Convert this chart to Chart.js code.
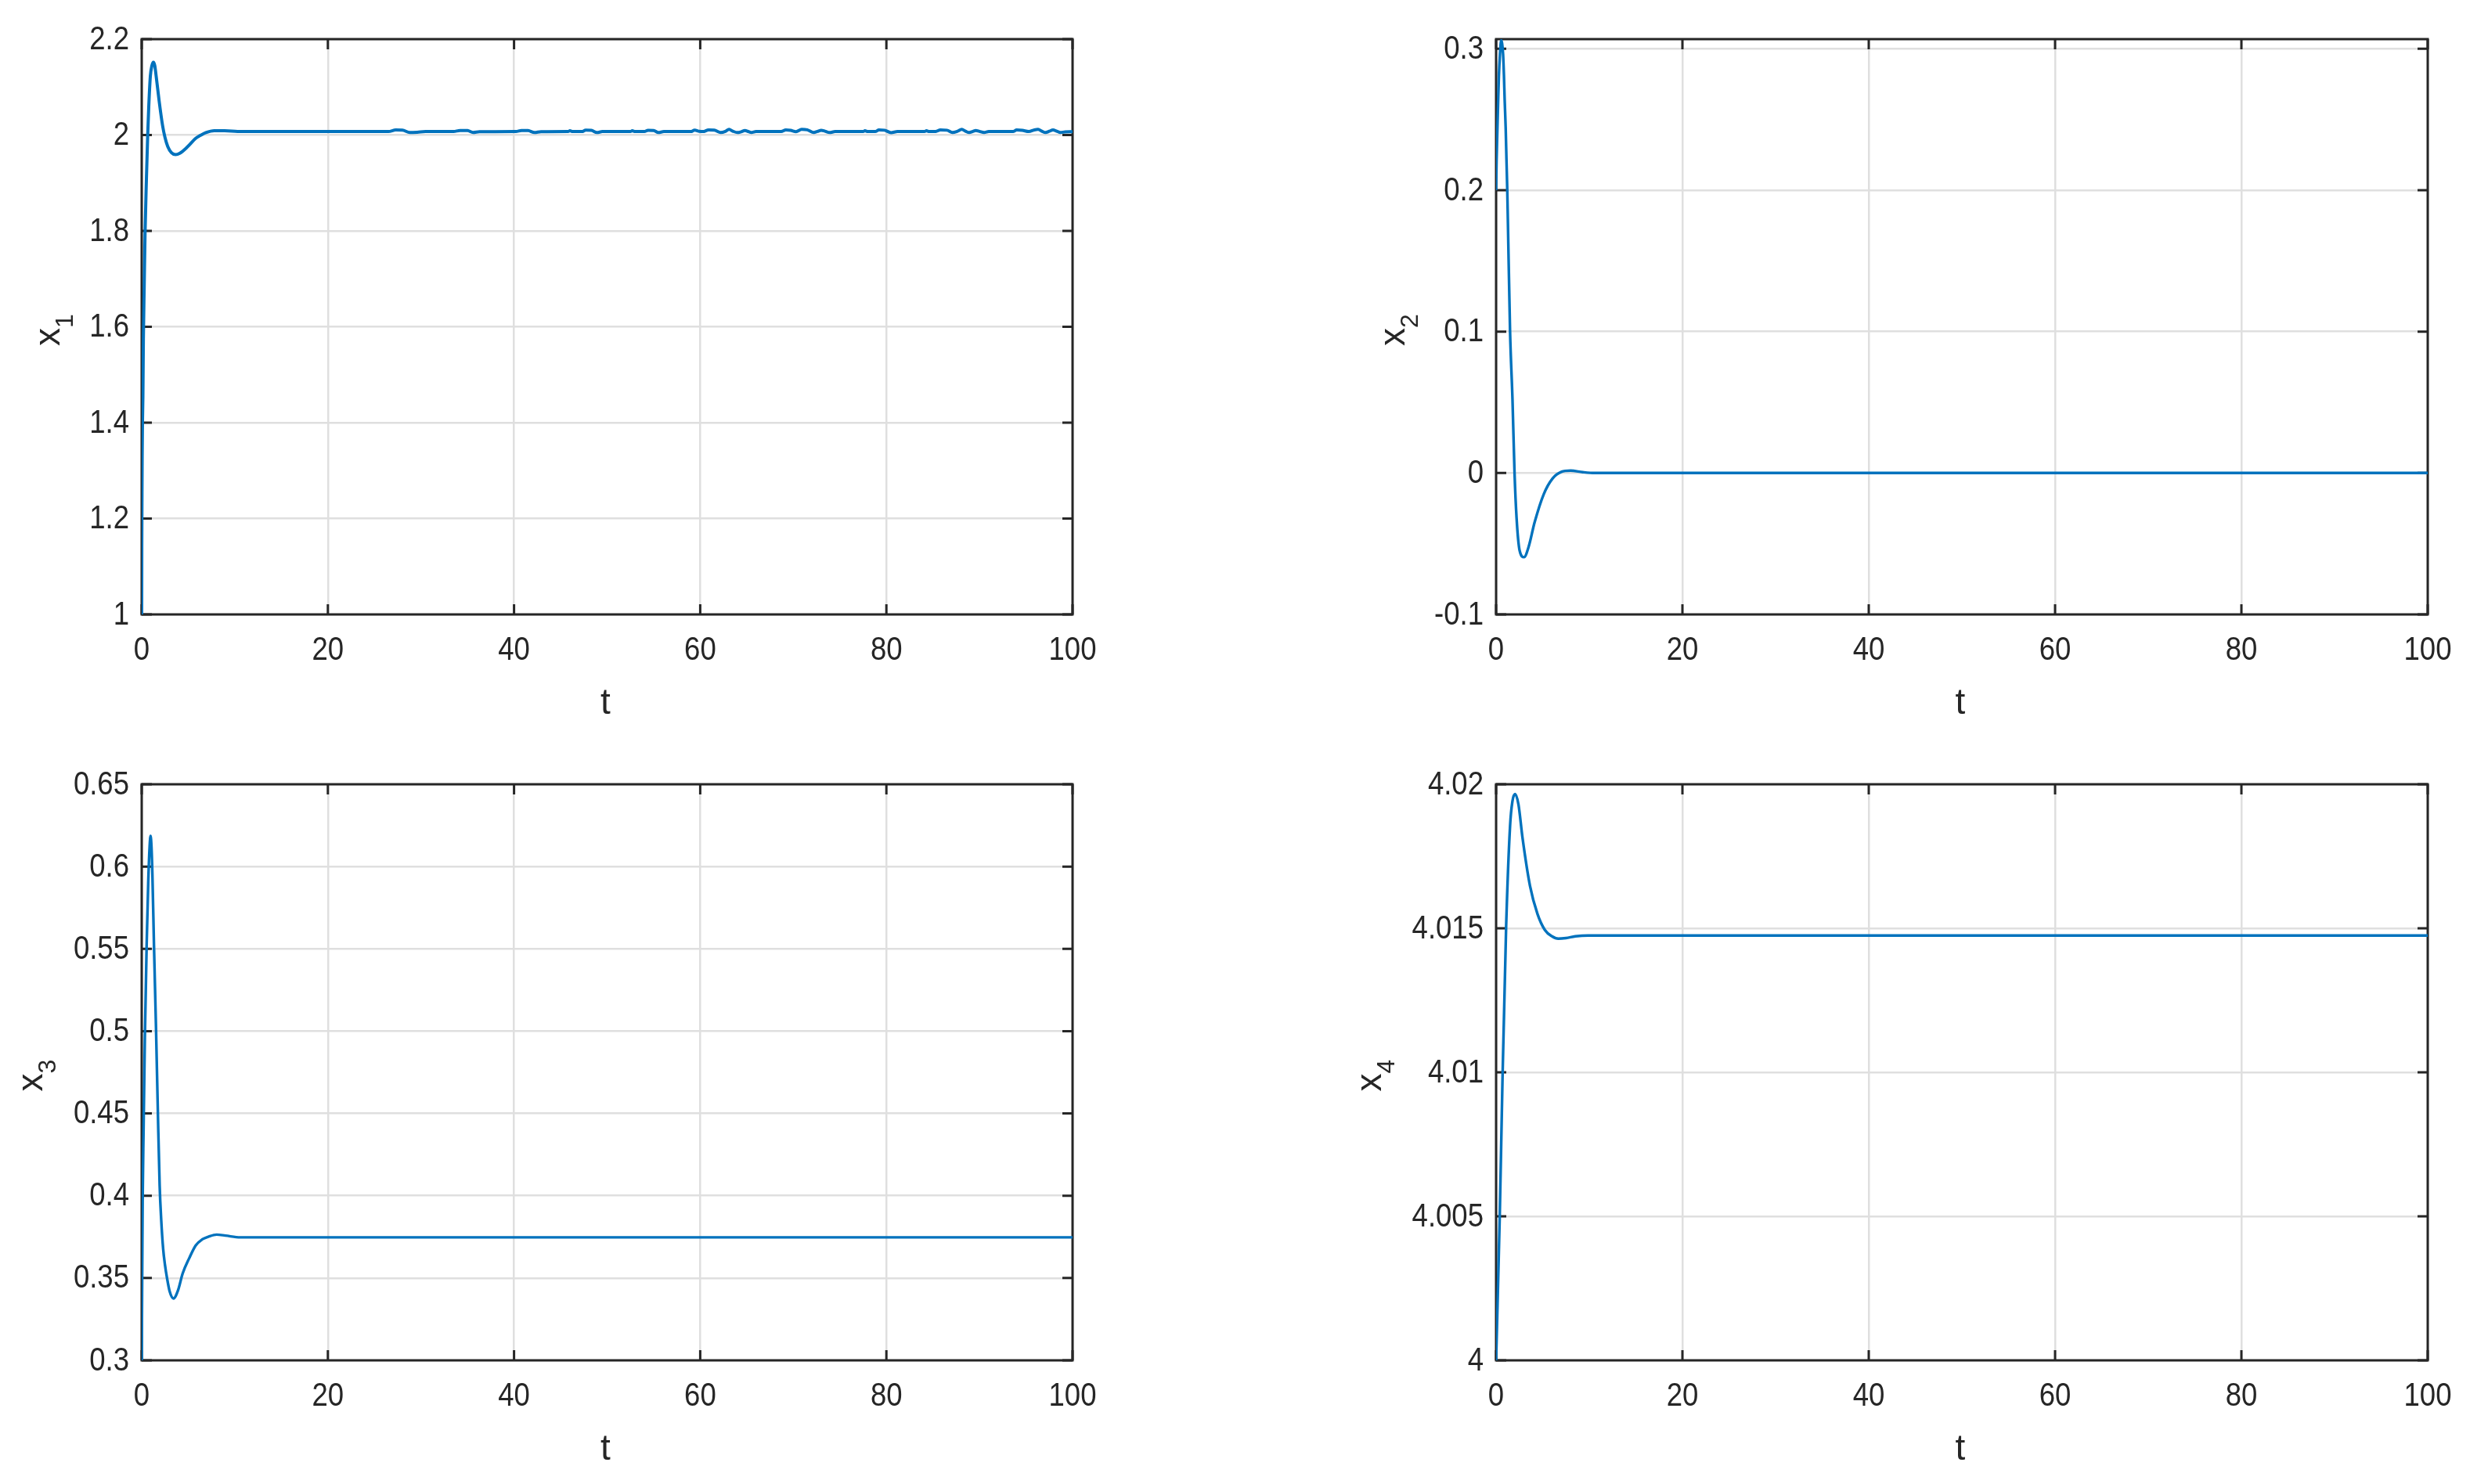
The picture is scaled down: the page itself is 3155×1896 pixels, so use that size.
<!DOCTYPE html>
<html><head><meta charset="utf-8">
<script src="https://cdn.jsdelivr.net/npm/chart.js@4.4.0/dist/chart.umd.min.js"></script>
<style>
html,body{margin:0;padding:0;background:#fff;}
body{width:3155px;height:1896px;position:relative;overflow:hidden;}
canvas{position:absolute;}
</style></head><body>
<canvas id="c1" width="1430" height="948" style="left:0px;top:0px"></canvas>
<canvas id="c2" width="1600" height="948" style="left:1555px;top:0px"></canvas>
<canvas id="c3" width="1430" height="948" style="left:0px;top:948px"></canvas>
<canvas id="c4" width="1600" height="948" style="left:1555px;top:948px"></canvas>
<script>
// ---- tick values / labels ----
const tTicks = [0, 20, 40, 60, 80, 100];
const tTickLabels = ['0', '20', '40', '60', '80', '100'];
const x1Ticks = [1, 1.2, 1.4, 1.6, 1.8, 2, 2.2];
const x1TickLabels = ['1', '1.2', '1.4', '1.6', '1.8', '2', '2.2'];
const x2Ticks = [-0.1, 0, 0.1, 0.2, 0.3];
const x2TickLabels = ['-0.1', '0', '0.1', '0.2', '0.3'];
const x3Ticks = [0.3, 0.35, 0.4, 0.45, 0.5, 0.55, 0.6, 0.65];
const x3TickLabels = ['0.3', '0.35', '0.4', '0.45', '0.5', '0.55', '0.6', '0.65'];
const x4Ticks = [4, 4.005, 4.01, 4.015, 4.02];
const x4TickLabels = ['4', '4.005', '4.01', '4.015', '4.02'];

// ---- axis limits ----
const tRange = [0, 100];
const x1Range = [1, 2.2];
const x2Range = [-0.1, 0.3068];
const x3Range = [0.3, 0.65];
const x4Range = [4, 4.02];

// ---- series ----
const t1 = [0, 0.01, 0.03, 0.05, 0.08, 0.13, 0.18, 0.27, 0.36, 0.5,
  0.64, 0.76, 0.93, 1.1, 1.26, 1.4, 1.54, 1.88, 2.24, 2.5,
  2.8, 3.2, 3.64, 4.1, 4.9, 5.8, 6.3, 6.9, 7.8, 8.9,
  10.3, 12, 20, 26.5, 27.3, 28.0, 28.8, 29.6, 30.5, 33.5,
  34.2, 35.0, 35.6, 36.3, 40.2, 40.8, 41.5, 42.2, 42.9, 45.8,
  46.0, 46.3, 47.3, 47.7, 48.3, 48.9, 49.5, 52.5, 52.7, 53.0,
  54.0, 54.4, 55.0, 55.5, 56.1, 59.0, 59.4, 59.9, 60.3, 60.9,
  61.5, 62.2, 62.7, 63.1, 63.5, 64.0, 64.4, 64.8, 65.2, 65.5,
  66.0, 68.7, 69.2, 69.7, 70.3, 70.9, 71.5, 72.2, 72.6, 73.0,
  73.4, 73.9, 74.5, 77.5, 77.7, 78.0, 78.8, 79.2, 79.8, 80.5,
  81.2, 84.1, 84.3, 84.6, 85.3, 85.8, 86.5, 87.1, 87.6, 88.1,
  88.5, 88.9, 89.3, 89.6, 90.0, 90.5, 91.0, 93.6, 94.0, 94.6,
  95.3, 95.9, 96.3, 96.7, 97.1, 97.5, 97.9, 98.3, 98.7, 99.2,
  100];
const x1 = [1.0, 1.14, 1.25, 1.33, 1.397, 1.455, 1.576, 1.686, 1.795, 1.904,
  1.997, 2.06, 2.123, 2.145, 2.152, 2.145, 2.125, 2.07, 2.02, 1.995,
  1.976, 1.963, 1.959, 1.962, 1.975, 1.993, 1.999, 2.005, 2.009, 2.009,
  2.0075, 2.0072, 2.0072, 2.0072, 2.0105, 2.0102, 2.0052, 2.0058, 2.0072, 2.0072,
  2.0095, 2.0092, 2.0052, 2.0068, 2.0072, 2.0095, 2.0093, 2.0052, 2.007, 2.0072,
  2.0088, 2.0072, 2.0072, 2.0102, 2.0098, 2.0052, 2.0072, 2.0072, 2.0088, 2.0072,
  2.0072, 2.0098, 2.0095, 2.0052, 2.0072, 2.0072, 2.0102, 2.0078, 2.0072, 2.0106,
  2.0102, 2.0052, 2.0075, 2.0117, 2.008, 2.0052, 2.0068, 2.0095, 2.007, 2.0052,
  2.0072, 2.0072, 2.0106, 2.0098, 2.007, 2.0117, 2.0108, 2.0052, 2.0075, 2.0098,
  2.008, 2.0052, 2.0072, 2.0072, 2.0088, 2.0072, 2.0072, 2.0106, 2.01, 2.005,
  2.0072, 2.0072, 2.0088, 2.0072, 2.0075, 2.0106, 2.01, 2.0052, 2.0075, 2.0117,
  2.008, 2.0052, 2.0075, 2.0095, 2.0075, 2.0052, 2.0072, 2.0072, 2.0106, 2.0098,
  2.0072, 2.0106, 2.0117, 2.008, 2.0052, 2.0078, 2.0106, 2.008, 2.0052, 2.0065,
  2.0068];

const t2 = [0, 0.05, 0.14, 0.22, 0.3, 0.42, 0.55, 0.65, 0.75, 0.84,
  0.92, 1.03, 1.12, 1.2, 1.26, 1.5, 1.76, 1.98, 2.2, 2.53,
  3.0, 3.5, 4.13, 5.1, 6.06, 7.0, 8.0, 9.3, 10.6, 20,
  100];
const x2 = [0.2, 0.22, 0.243, 0.263, 0.2807, 0.2963, 0.306, 0.3035, 0.2963, 0.2816,
  0.264, 0.2439, 0.22, 0.2, 0.18, 0.1, 0.052, 0, -0.032, -0.055,
  -0.0595, -0.052, -0.035, -0.0152, -0.0039, 0.0008, 0.0017, 0.0006, 0, 0,
  0];

const t3 = [0, 0.03, 0.06, 0.1, 0.2, 0.34, 0.53, 0.7, 0.85, 0.95,
  1.05, 1.15, 1.32, 1.54, 1.74, 1.93, 2.1, 2.3, 2.5, 2.72,
  3.0, 3.42, 3.9, 4.4, 5.1, 5.8, 6.5, 7.2, 8.05, 9.0,
  10.6, 20, 100];
const x3 = [0.3, 0.33, 0.36, 0.3966, 0.44, 0.496, 0.552, 0.59, 0.612, 0.6186,
  0.612, 0.595, 0.552, 0.501, 0.45, 0.406, 0.385, 0.368, 0.358, 0.35,
  0.342, 0.3376, 0.3425, 0.3528, 0.362, 0.3698, 0.3735, 0.3752, 0.3764, 0.3758,
  0.3747, 0.3747, 0.3747];

const t4 = [0, 0.39, 0.7, 1.08, 1.5, 1.75, 2.04, 2.4, 2.84, 3.64,
  4.44, 5.24, 6.0, 6.68, 7.5, 8.5, 9.87, 15, 100];
const x4 = [4.0, 4.00496, 4.00995, 4.01508, 4.01855, 4.0194, 4.01966, 4.0193, 4.01813, 4.01647,
  4.0155, 4.01494, 4.01472, 4.01464, 4.01466, 4.01472, 4.01475, 4.01475, 4.01475];

// ---- styling ----
const FONT = '"Liberation Sans", Arial, Helvetica, sans-serif';
const INK = '#262626';
const GRID = '#dfdfdf';
const LINE = '#0072bd';
const TICK_SQUEEZE = 0.87;

function squeezedText(ctx, txt, x, y, align) {
  ctx.save();
  ctx.translate(x, y);
  ctx.scale(TICK_SQUEEZE, 1);
  ctx.textAlign = align;
  ctx.fillText(txt, 0, 0);
  ctx.restore();
}

const matlabBox = {
  id: 'matlabBox',
  beforeDatasetsDraw(chart, args, o) {
    const { ctx, chartArea: a } = chart;
    const xs = chart.scales.x, ys = chart.scales.y;
    const L = 13;
    ctx.save();
    ctx.strokeStyle = INK;
    ctx.lineWidth = 3;
    ctx.beginPath();
    xs.ticks.forEach(tk => {
      const p = xs.getPixelForValue(tk.value);
      ctx.moveTo(p, a.bottom); ctx.lineTo(p, a.bottom - L);
      ctx.moveTo(p, a.top); ctx.lineTo(p, a.top + L);
    });
    ys.ticks.forEach(tk => {
      const p = ys.getPixelForValue(tk.value);
      ctx.moveTo(a.left, p); ctx.lineTo(a.left + L, p);
      ctx.moveTo(a.right, p); ctx.lineTo(a.right - L, p);
    });
    ctx.stroke();
    ctx.strokeRect(a.left, a.top, a.right - a.left, a.bottom - a.top);
    // tick labels
    ctx.fillStyle = INK;
    ctx.font = '42px ' + FONT;
    ctx.textBaseline = 'middle';
    xs.ticks.forEach((tk, i) => {
      squeezedText(ctx, o.xLabels[i], xs.getPixelForValue(tk.value), a.bottom + 46, 'center');
    });
    ys.ticks.forEach((tk, i) => {
      squeezedText(ctx, o.yLabels[i], a.left - 16, ys.getPixelForValue(tk.value) + 1, 'right');
    });
    ctx.restore();
  },
  afterDraw(chart, args, o) {
    const { ctx, chartArea: a } = chart;
    ctx.save();
    ctx.fillStyle = INK;
    ctx.font = '46px ' + FONT;
    ctx.textAlign = 'center';
    ctx.textBaseline = 'alphabetic';
    ctx.fillText(o.xTitle, (a.left + a.right) / 2 - 2, a.bottom + 127);
    ctx.font = '46px ' + FONT;
    const wm = ctx.measureText(o.yMain).width;
    ctx.font = '32px ' + FONT;
    const ws = ctx.measureText(o.ySub).width;
    const total = wm + ws;
    ctx.translate(a.left - o.yOff, (a.top + a.bottom) / 2 + 4);
    ctx.rotate(-Math.PI / 2);
    ctx.textAlign = 'left';
    ctx.font = '46px ' + FONT;
    ctx.fillText(o.yMain, -total / 2, 0);
    ctx.font = '32px ' + FONT;
    ctx.fillText(o.ySub, -total / 2 + wm, 17);
    ctx.restore();
  }
};

function makeChart(id, tArr, vArr, yRange, yTicks, yLabels, sub, lay) {
  const pts = tArr.map((t, i) => ({ x: t, y: vArr[i] }));
  return new Chart(document.getElementById(id), {
    type: 'line',
    data: { datasets: [{ data: pts, borderColor: LINE, borderWidth: lay.lw, pointRadius: 0,
      fill: false, cubicInterpolationMode: 'monotone' }] },
    plugins: [matlabBox],
    options: {
      responsive: false, animation: false, devicePixelRatio: 1,
      layout: { padding: { left: 0, top: lay.padTop, right: lay.padRight, bottom: 0 } },
      plugins: {
        legend: { display: false }, tooltip: { enabled: false },
        matlabBox: { xTitle: 't', yMain: 'x', ySub: sub, yOff: lay.yOff,
          xLabels: tTickLabels, yLabels: yLabels }
      },
      scales: {
        x: {
          type: 'linear', min: tRange[0], max: tRange[1],
          afterBuildTicks: s => { s.ticks = tTicks.map(v => ({ value: v })); },
          afterFit: s => { s.height = lay.xH; },
          grid: { color: GRID, lineWidth: 2.5, drawTicks: false },
          border: { display: false },
          ticks: { display: false }
        },
        y: {
          type: 'linear', min: yRange[0], max: yRange[1],
          afterBuildTicks: s => { s.ticks = yTicks.map(v => ({ value: v })); },
          afterFit: s => { s.width = lay.yW; },
          grid: { color: GRID, lineWidth: 2.5, drawTicks: false },
          border: { display: false },
          ticks: { display: false }
        }
      }
    }
  });
}

makeChart('c1', t1, x1, x1Range, x1Ticks, x1TickLabels, '1',
  { padTop: 50, padRight: 60, xH: 163, yW: 181, yOff: 105, lw: 4 });
makeChart('c2', t2, x2, x2Range, x2Ticks, x2TickLabels, '2',
  { padTop: 50, padRight: 54, xH: 163, yW: 356, yOff: 117, lw: 3.4 });
makeChart('c3', t3, x3, x3Range, x3Ticks, x3TickLabels, '3',
  { padTop: 54, padRight: 60, xH: 158, yW: 181, yOff: 127, lw: 3.4 });
makeChart('c4', t4, x4, x4Range, x4Ticks, x4TickLabels, '4',
  { padTop: 54, padRight: 54, xH: 158, yW: 356, yOff: 147, lw: 3.4 });
</script>
</body></html>
